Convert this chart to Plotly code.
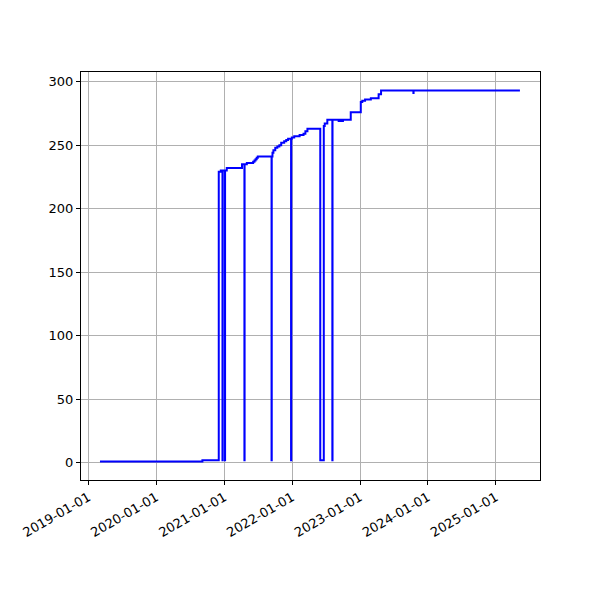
import plotly.graph_objects as go
import pandas as pd

dates = ["2019-03-04", "2020-09-05", "2020-12-02", "2020-12-13", "2020-12-22", "2020-12-23",
         "2021-01-04", "2021-01-05", "2021-01-14", "2021-04-06", "2021-04-19", "2021-04-20",
         "2021-05-02", "2021-06-05", "2021-06-12", "2021-06-18", "2021-06-24", "2021-06-30",
         "2021-09-12", "2021-09-13", "2021-09-17", "2021-09-22", "2021-10-02", "2021-10-13",
         "2021-10-24", "2021-11-03", "2021-11-19", "2021-11-30", "2021-12-10", "2021-12-26",
         "2021-12-27", "2021-12-30", "2022-01-12", "2022-02-10", "2022-03-03", "2022-03-13",
         "2022-03-24", "2022-06-01", "2022-06-20", "2022-06-25", "2022-07-09", "2022-08-05",
         "2022-08-06", "2022-09-08", "2022-09-15", "2022-09-25", "2022-10-01", "2022-11-12",
         "2023-01-05", "2023-01-13", "2023-01-28", "2023-02-28", "2023-04-11", "2023-04-24",
         "2023-10-15", "2023-10-16", "2025-05-10"]
values = [1, 2, 229, 230, 2, 230,
          2, 230, 232, 235, 2, 235,
          236, 237, 238, 239, 240, 241,
          2, 241, 244, 246, 248, 249,
          250, 252, 253, 254, 255, 2,
          255, 256, 257, 258, 259, 261,
          263, 2, 265, 267, 270, 2,
          270, 269, 270, 269, 270, 276,
          284, 285, 286, 287, 290, 293,
          291, 293, 293]
tick_dates = ["2019-01-01", "2020-01-01", "2021-01-01", "2022-01-01",
              "2023-01-01", "2024-01-01", "2025-01-01"]
y_ticks = [0, 50, 100, 150, 200, 250, 300]
x_range = ["2018-11-22", "2025-08-26"]

vmin, vmax = min(values), max(values)
ypad = (vmax - vmin) * 0.05
yr = [vmin - ypad, vmax + ypad]

fig = go.Figure()
fig.add_trace(go.Scatter(x=pd.to_datetime(dates), y=values, mode="lines", line_shape="hv",
                         line=dict(color="blue", width=2), showlegend=False))

axis_common = dict(showline=True, linecolor="black", linewidth=1, mirror=True,
                   showgrid=True, gridcolor="#b0b0b0", gridwidth=0.8,
                   ticks="outside", ticklen=4, tickcolor="black", zeroline=False,
                   tickfont=dict(family="DejaVu Sans", size=13, color="black"))

fig.update_layout(
    width=600, height=600,
    margin=dict(l=68, r=68, t=64, b=128),
    plot_bgcolor="white", paper_bgcolor="white",
    xaxis=dict(range=x_range, tickvals=tick_dates, ticktext=tick_dates,
               tickangle=-30, **axis_common),
    yaxis=dict(range=yr, tickvals=y_ticks, **axis_common),
)

fig.write_html("out.html")
